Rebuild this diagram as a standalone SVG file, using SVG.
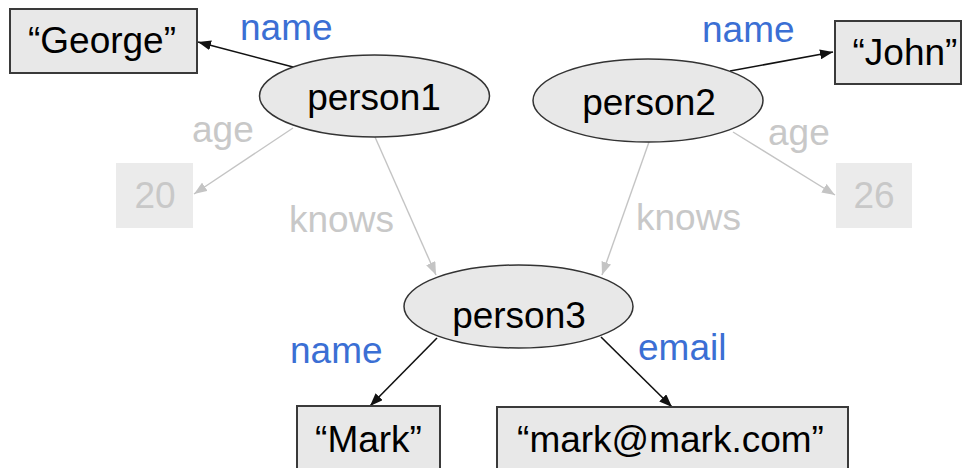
<svg xmlns="http://www.w3.org/2000/svg" width="965" height="468" viewBox="0 0 965 468">
  <style>
    text { font-family: "Liberation Sans", Arial, sans-serif; font-size: 37px; }
    .node-text { fill: #000; text-anchor: middle; }
    .literal { fill: #e8e8e8; stroke: #3a3a3a; stroke-width: 2; }
    .faded { fill: #ebebeb; stroke: none; }
    .faded-text { fill: #c8c8c8; text-anchor: middle; }
    .resource { fill: #e8e8e8; stroke: #333; stroke-width: 1.5; }
    .edge { stroke: #111; stroke-width: 1.6; fill: none; marker-end: url(#arrow-dark); }
    .edge-faded { stroke: #c4c4c4; stroke-width: 1.4; fill: none; marker-end: url(#arrow-light); }
    .label { fill: #3b6fd4; }
    .label-faded { fill: #c8c8c8; }
  </style>
  <defs>
    <marker id="arrow-dark" markerUnits="userSpaceOnUse" markerWidth="14" markerHeight="10" refX="13" refY="5" orient="auto">
      <path d="M0,0 L13,5 L0,10 z" fill="#111"/>
    </marker>
    <marker id="arrow-light" markerUnits="userSpaceOnUse" markerWidth="14" markerHeight="10" refX="13" refY="5" orient="auto">
      <path d="M0,0 L13,5 L0,10 z" fill="#c4c4c4"/>
    </marker>
  </defs>

  <rect width="965" height="468" fill="#fff"/>

  <!-- connectors -->
  <g id="connectors">
    <line class="edge" x1="293" y1="67" x2="198" y2="42"/>
    <line class="edge-faded" x1="293" y1="128" x2="194" y2="194"/>
    <line class="edge-faded" x1="375" y1="137" x2="436" y2="275"/>
    <line class="edge" x1="730" y1="71" x2="833" y2="52"/>
    <line class="edge-faded" x1="733" y1="132" x2="835" y2="195"/>
    <line class="edge-faded" x1="649" y1="142" x2="602" y2="275"/>
    <line class="edge" x1="437" y1="338" x2="370" y2="406"/>
    <line class="edge" x1="601" y1="337" x2="672" y2="407"/>

    <text class="label" x="240" y="40">name</text>
    <text class="label-faded" x="192" y="142">age</text>
    <text class="label-faded" x="289" y="232">knows</text>
    <text class="label" x="702" y="42">name</text>
    <text class="label-faded" x="768" y="145">age</text>
    <text class="label-faded" x="636" y="230">knows</text>
    <text class="label" x="290" y="363">name</text>
    <text class="label" x="638" y="360">email</text>
  </g>

  <g id="george">
    <rect class="literal" x="10" y="9" width="187" height="64"/>
    <text class="node-text" x="102" y="53">“George”</text>
  </g>

  <g id="john">
    <rect class="literal" x="835" y="21" width="126" height="63"/>
    <text class="node-text" x="905" y="65">“John”</text>
  </g>

  <g id="age20">
    <rect class="faded" x="116" y="163" width="77" height="65"/>
    <text class="faded-text" x="155" y="208">20</text>
  </g>

  <g id="age26">
    <rect class="faded" x="836" y="163" width="76" height="65"/>
    <text class="faded-text" x="874" y="208">26</text>
  </g>

  <g id="person1">
    <ellipse class="resource" cx="374.5" cy="96" rx="115" ry="41"/>
    <text class="node-text" x="374" y="110">person1</text>
  </g>

  <g id="person2">
    <ellipse class="resource" cx="648" cy="100.5" rx="115" ry="41.5"/>
    <text class="node-text" x="649" y="115">person2</text>
  </g>

  <g id="person3">
    <ellipse class="resource" cx="518.5" cy="306.5" rx="114.5" ry="41.5"/>
    <text class="node-text" x="519" y="328">person3</text>
  </g>

  <g id="mark">
    <rect class="literal" x="297" y="406" width="143" height="70"/>
    <text class="node-text" x="368.5" y="452">“Mark”</text>
  </g>

  <g id="email">
    <rect class="literal" x="497" y="407" width="351" height="69"/>
    <text class="node-text" x="670.5" y="452">“mark@mark.com”</text>
  </g>
</svg>
